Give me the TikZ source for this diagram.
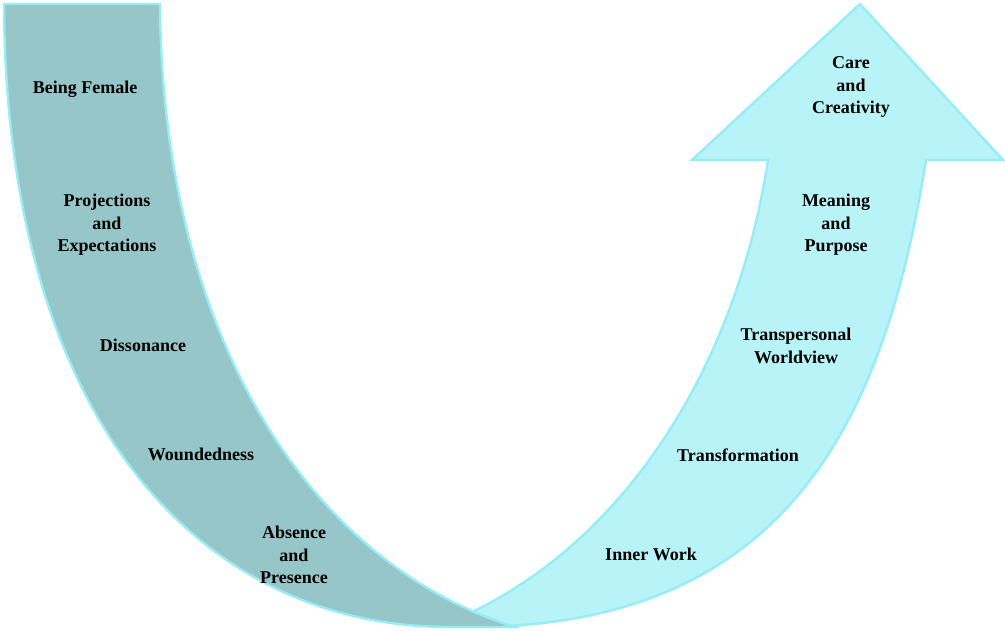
\documentclass[tikz,border=0pt]{standalone}
\usepackage{fontspec}
\setmainfont{Liberation Serif}
\definecolor{bandfill}{HTML}{96C6C8}
\definecolor{arrowfill}{HTML}{B7F3F7}
\definecolor{edge}{HTML}{96ECF7}
\begin{document}
\begin{tikzpicture}[x=1pt,y=-1pt,
  outlined/.style={draw=edge,line width=2.4pt,line join=miter},
  lbl/.style={font=\bfseries\fontsize{18}{22.5}\selectfont,align=center,inner sep=0pt,text=black}]
\useasboundingbox (0,0) rectangle (1005,631);

% rising arrow
\path[outlined,fill=arrowfill]
  (450,627) -- (470,627)
  .. controls (790,627) and (885,416.6) .. (926,160)
  -- (1003,160) -- (860,4) -- (692,160) -- (768,160)
  .. controls (738,358) and (632,535.6) .. (470,613)
  -- cycle;

% descending band
\path[outlined,fill=bandfill]
  (4,4) -- (160,4)
  .. controls (162,330) and (305,562) .. (515,627)
  -- (450,627)
  .. controls (200,627) and (6,420) .. (4,4) -- cycle;

% stages going down
\node[lbl] (female) at (85,89) {Being Female};
\node[lbl] (proj) at (107,225) {Projections\\and\\Expectations};
\node[lbl] (diss) at (143,345) {Dissonance};
\node[lbl] (wound) at (201,454) {Woundedness};
\node[lbl] (absence) at (294,555) {Absence\\and\\Presence};

% stages going up
\node[lbl] (inner) at (651,554) {Inner Work};
\node[lbl] (transf) at (738,455) {Transformation};
\node[lbl] (transp) at (796,346) {Transpersonal\\Worldview};
\node[lbl] (meaning) at (836,225) {Meaning\\and\\Purpose};
\node[lbl] (care) at (851,87) {Care\\and\\Creativity};
\end{tikzpicture}
\end{document}
